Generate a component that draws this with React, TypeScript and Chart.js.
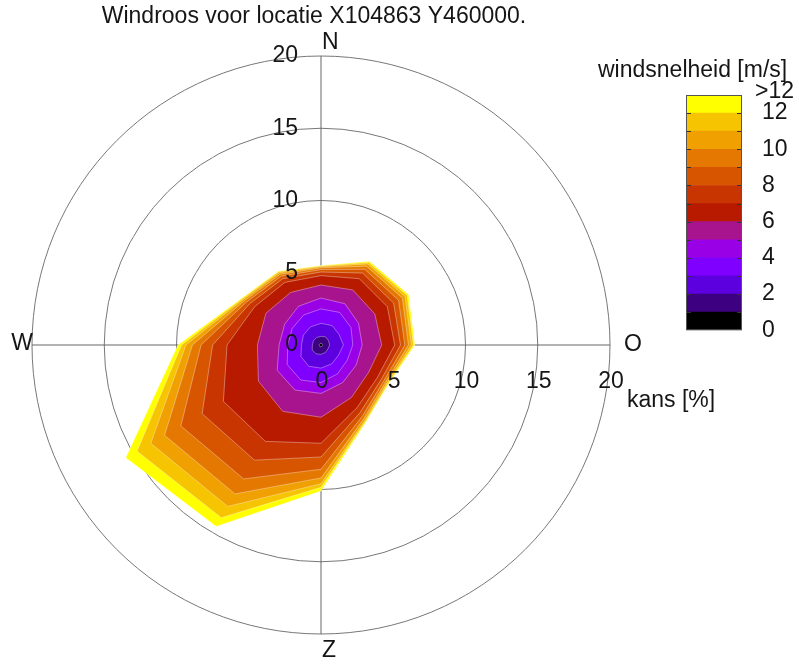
import React, { useEffect, useRef } from 'react';
import { Chart, registerables } from 'chart.js';

Chart.register(...registerables);

// ---------- data ----------
const directions = ['N', '30', '60', 'O', '120', '150', 'Z', '210', '240', 'W', '300', '330'];
const speedClasses = ['0-1', '1-2', '2-3', '3-4', '4-5', '5-6', '6-7', '7-8', '8-9', '9-10', '10-11', '11-12', '>12'];
const classColors = [
  '#000000', '#3c0080', '#5c00e0', '#7f00ff', '#9a00e6', '#a8138e', '#b81a00',
  '#c83500', '#d85500', '#e47800', '#f0a000', '#f6c400', '#ffff00',
];

// cumulative frequency (kans, %) per direction, up to each wind speed class
const upTo1 = [0.12, 0.12, 0.12, 0.12, 0.1, 0.12, 0.12, 0.14, 0.14, 0.12, 0.12, 0.12];
const upTo2 = [0.6, 0.65, 0.6, 0.6, 0.55, 0.6, 0.65, 0.7, 0.7, 0.6, 0.6, 0.6];
const upTo3 = [1.5, 1.55, 1.45, 1.55, 1.4, 1.5, 1.6, 1.7, 1.6, 1.35, 1.4, 1.45];
const upTo4 = [2.5, 2.6, 2.4, 2.2, 2.1, 2.3, 2.6, 2.8, 2.7, 2.3, 2.3, 2.4];
const upTo5 = [3.25, 3.3, 3.0, 2.85, 2.8, 3.0, 3.35, 3.6, 3.5, 2.9, 2.9, 3.1];
const upTo6 = [4.15, 4.4, 4.3, 4.2, 3.8, 4.2, 5.0, 5.3, 5.0, 4.4, 4.4, 4.2];
const upTo7 = [4.8, 5.3, 5.3, 5.1, 4.5, 5.0, 6.8, 7.7, 7.8, 6.5, 5.3, 5.0];
const upTo8 = [5.05, 5.75, 5.8, 5.5, 4.8, 5.4, 7.75, 9.2, 9.5, 7.5, 5.7, 5.3];
const upTo9 = [5.22, 6.05, 6.2, 5.8, 5.0, 5.7, 8.6, 10.7, 11.2, 8.3, 5.95, 5.5];
const upTo10 = [5.34, 6.3, 6.5, 6.05, 5.15, 5.9, 9.2, 11.9, 12.5, 8.9, 6.12, 5.65];
const upTo11 = [5.42, 6.48, 6.72, 6.25, 5.27, 6.05, 9.6, 12.9, 13.6, 9.35, 6.25, 5.77];
const upTo12 = [5.47, 6.6, 6.88, 6.4, 5.35, 6.14, 9.85, 13.8, 14.7, 9.65, 6.34, 5.85];
const allSpeeds = [5.5, 6.7, 7.0, 6.5, 5.4, 6.2, 10.1, 14.5, 15.6, 9.9, 6.4, 5.9];

const cumulative = [upTo1, upTo2, upTo3, upTo4, upTo5, upTo6, upTo7, upTo8, upTo9, upTo10, upTo11, upTo12, allSpeeds];

const radialTicks = [0, 5, 10, 15, 20];
const colorbarTicks = [0, 2, 4, 6, 8, 10, 12];
const colorbarTickLabels = ['0', '2', '4', '6', '8', '10', '12'];
const colorbarTopLabel = '>12';
const compass = { north: 'N', east: 'O', south: 'Z', west: 'W' };
const titleText = 'Windroos voor locatie X104863 Y460000.';
const radialAxisTitle = 'kans [%]';
const colorbarTitle = 'windsnelheid [m/s]';

const FAMILY = '"Liberation Sans", Arial, Helvetica, sans-serif';
const FONT = '23px ' + FAMILY;
const TEXT = '#151515';

const roseText = {
  id: 'roseText',
  afterDraw(chart: any) {
    const ctx = chart.ctx;
    const s = chart.scales.r;
    const cx = s.xCenter;
    const cy = s.yCenter;
    const R = s.drawingArea;
    ctx.save();
    ctx.font = FONT;
    ctx.fillStyle = TEXT;
    ctx.textBaseline = 'middle';

    ctx.textAlign = 'center';
    ctx.fillText(titleText, 314, 17);

    // tick labels along north axis
    ctx.textAlign = 'right';
    radialTicks.forEach((v) => {
      const d = s.getDistanceFromCenterForValue(v);
      ctx.fillText(String(v), cx - 23, cy - d);
    });
    // tick labels along east axis
    ctx.textAlign = 'center';
    radialTicks.forEach((v) => {
      const d = s.getDistanceFromCenterForValue(v);
      ctx.fillText(String(v), cx + d + 1, cy + 37);
    });

    // compass letters
    ctx.textAlign = 'left';
    ctx.fillText(compass.north, cx + 1, cy - R - 13);
    ctx.fillText(compass.south, cx + 1, cy + R + 17);
    ctx.fillText(compass.east, cx + R + 14, cy);
    ctx.textAlign = 'right';
    ctx.fillText(compass.west, cx - R + 1, cy - 1);

    ctx.textAlign = 'left';
    ctx.fillText(radialAxisTitle, 627, 401);
    ctx.fillText(colorbarTitle, 598, 71);
    ctx.restore();
  },
};

const colorbarFrame = {
  id: 'colorbarFrame',
  afterDraw(chart: any) {
    const ctx = chart.ctx;
    const a = chart.chartArea;
    const y = chart.scales.y;
    ctx.save();
    ctx.strokeStyle = '#333';
    ctx.lineWidth = 1;
    for (let v = 1; v <= 12; v++) {
      const py = Math.round(y.getPixelForValue(v)) + 0.5;
      ctx.beginPath();
      ctx.moveTo(a.left, py);
      ctx.lineTo(a.left + 5, py);
      ctx.moveTo(a.right - 5, py);
      ctx.lineTo(a.right, py);
      ctx.stroke();
    }
    ctx.strokeStyle = '#555';
    ctx.strokeRect(a.left + 0.5, a.top + 0.5, a.right - a.left - 1, a.bottom - a.top - 1);
    ctx.font = FONT;
    ctx.fillStyle = TEXT;
    ctx.textBaseline = 'middle';
    ctx.textAlign = 'left';
    ctx.fillText(colorbarTopLabel, a.right + 13, y.getPixelForValue(13) - 3);
    ctx.restore();
  },
};

export default function App() {
  const roseRef = useRef<HTMLCanvasElement>(null);
  const barRef = useRef<HTMLCanvasElement>(null);

  useEffect(() => {
    const rose = new Chart(roseRef.current as HTMLCanvasElement, {
      type: 'radar',
      data: {
        labels: directions,
        datasets: cumulative.map((d, i) => ({
          label: speedClasses[i],
          data: d,
          backgroundColor: classColors[i],
          borderColor: 'rgba(255,255,255,0.35)',
          borderWidth: 1,
          fill: true,
          pointRadius: 0,
          pointHoverRadius: 0,
          tension: 0,
        })),
      },
      options: {
        responsive: false,
        animation: false,
        events: [],
        layout: { padding: { left: 32, top: 56, right: 189, bottom: 31 } },
        plugins: { legend: { display: false }, tooltip: { enabled: false }, title: { display: false } },
        scales: {
          r: {
            min: 0,
            max: 20,
            startAngle: 0,
            z: 1,
            ticks: { display: false, stepSize: 5 },
            grid: { circular: true, color: '#777', lineWidth: 1 },
            angleLines: {
              display: true,
              lineWidth: 1,
              color: (c: any) => (c.index % 3 === 0 ? '#666' : 'rgba(255,255,255,0.4)'),
            },
            pointLabels: { display: false },
          },
        },
      } as any,
      plugins: [roseText],
    });

    const bar = new Chart(barRef.current as HTMLCanvasElement, {
      type: 'bar',
      data: {
        labels: [''],
        datasets: speedClasses.map((c, i) => ({
          label: c,
          data: [1],
          backgroundColor: classColors[i],
          borderWidth: 0,
          barPercentage: 1,
          categoryPercentage: 1,
        })),
      },
      options: {
        responsive: false,
        animation: false,
        events: [],
        layout: { padding: { left: 10, top: 35, right: 0, bottom: 20 } },
        plugins: { legend: { display: false }, tooltip: { enabled: false } },
        scales: {
          x: { stacked: true, display: false },
          y: {
            stacked: true,
            position: 'right',
            min: 0,
            max: 13,
            grid: { display: false, drawTicks: false },
            border: { display: false },
            afterBuildTicks: (scale: any) => {
              scale.ticks = colorbarTicks.map((v) => ({ value: v }));
            },
            afterFit: (scale: any) => {
              scale.width = 57;
            },
            ticks: {
              autoSkip: false,
              padding: 20,
              color: TEXT,
              font: { family: FAMILY, size: 23 },
              callback: (v: any) => {
                const idx = colorbarTicks.indexOf(Number(v));
                return idx >= 0 ? colorbarTickLabels[idx] : '';
              },
            },
          },
        },
      } as any,
      plugins: [colorbarFrame],
    });

    return () => {
      rose.destroy();
      bar.destroy();
    };
  }, []);

  return (
    <div style={{ position: 'absolute', left: 0, top: 0, width: 799, height: 665, background: '#fff', overflow: 'hidden' }}>
      <canvas ref={roseRef} width={799} height={665} style={{ position: 'absolute', left: 0, top: 0, width: 799, height: 665 }} />
      <canvas ref={barRef} width={123} height={304} style={{ position: 'absolute', left: 676, top: 60, width: 123, height: 304 }} />
    </div>
  );
}
